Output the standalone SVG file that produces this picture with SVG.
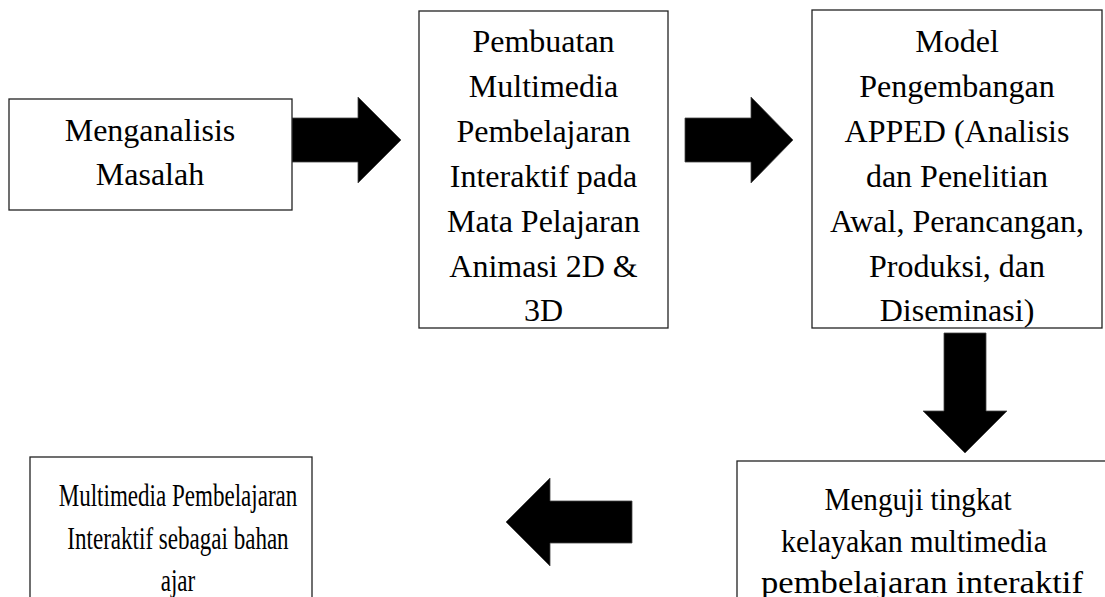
<svg xmlns="http://www.w3.org/2000/svg" width="1105" height="597" viewBox="0 0 1105 597">
<style>
.box{fill:#fff;stroke:#222;stroke-width:1.3}
.t{font-family:"Liberation Serif","Times New Roman",serif;font-size:32px;fill:#000;text-anchor:middle}
.arr{fill:#000;stroke:#444;stroke-width:0.8}
</style>
<rect width="1105" height="597" fill="#fff"/>
<g id="connectors">
<polygon class="arr" points="292,118 358,118 358,97 401,140 358,183 358,162 292,162"/>
<polygon class="arr" points="685,118 751,118 751,97 793,140 751,183 751,162 685,162"/>
<polygon class="arr" points="944,333 986,333 986,411 1007,411 965,453 923,411 944,411"/>
<polygon class="arr" points="632,501 550,501 550,478 506,522 550,566 550,543 632,543"/>
</g>
<g id="node1">
<rect class="box" x="9" y="99" width="283" height="111"/>
<text class="t" x="150" y="141">Menganalisis</text>
<text class="t" x="150" y="185">Masalah</text>
</g>
<g id="node2">
<rect class="box" x="419" y="11" width="249" height="317"/>
<text class="t" x="543.5" y="52">Pembuatan</text>
<text class="t" x="543.5" y="97">Multimedia</text>
<text class="t" x="543.5" y="142">Pembelajaran</text>
<text class="t" x="543.5" y="187">Interaktif pada</text>
<text class="t" x="543.5" y="232">Mata Pelajaran</text>
<text class="t" x="543.5" y="277">Animasi 2D &amp;</text>
<text class="t" x="543.5" y="321">3D</text>
</g>
<g id="node3">
<rect class="box" x="812" y="10" width="290" height="318"/>
<text class="t" x="957" y="52">Model</text>
<text class="t" x="957" y="97">Pengembangan</text>
<text class="t" x="957" y="142">APPED (Analisis</text>
<text class="t" x="957" y="187">dan Penelitian</text>
<text class="t" x="957" y="232">Awal, Perancangan,</text>
<text class="t" x="957" y="277">Produksi, dan</text>
<text class="t" x="957" y="321">Diseminasi)</text>
</g>
<g id="node4">
<rect class="box" x="737" y="461" width="400" height="160"/>
<text class="t" x="918" y="510" textLength="187" lengthAdjust="spacingAndGlyphs">Menguji tingkat</text>
<text class="t" x="914" y="552" textLength="266" lengthAdjust="spacingAndGlyphs">kelayakan multimedia</text>
<text class="t" x="922" y="593" textLength="322" lengthAdjust="spacingAndGlyphs">pembelajaran interaktif</text>
</g>
<g id="node5">
<rect class="box" x="30" y="457" width="282" height="160"/>
<g transform="translate(178,0) scale(0.72,1)">
<text class="t" x="0" y="506">Multimedia Pembelajaran</text>
<text class="t" x="0" y="549">Interaktif sebagai bahan</text>
<text class="t" x="0" y="591">ajar</text>
</g>
</g>
</svg>
